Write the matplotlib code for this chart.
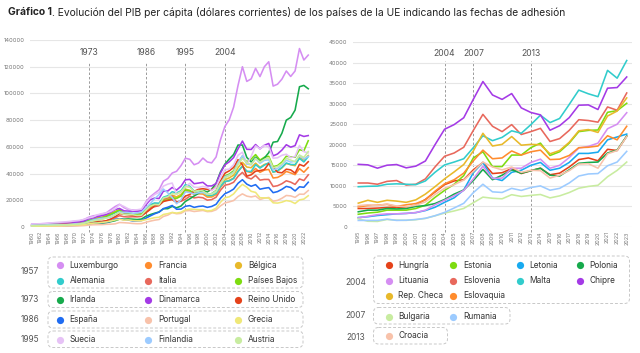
import matplotlib
matplotlib.use("Agg")
import matplotlib.pyplot as plt
from matplotlib.patches import FancyBboxPatch
import numpy as np

plt.rcParams['font.family'] = ['Inter', 'DejaVu Sans']

# ---------------- data: left chart (1960-2023) ----------------
years_l = list(range(1960, 2024))
lux = [2243, 2338, 2393, 2519, 2841, 2942, 3037, 3090, 3391, 3907,
       4413, 4709, 5740, 7337, 8363, 8837, 9665, 10607, 13023, 15330,
       16993, 14520, 12962, 12764, 12428, 12902, 18708, 22636, 25283, 27822,
       34300, 36300, 40400, 41700, 45900, 51500, 50700, 46600, 47900, 51600,
       48700, 48000, 52400, 65300, 75200, 80300, 89800, 106000, 120000, 109000,
       110900, 118800, 112600, 120000, 123700, 105500, 106900, 110700, 116800, 112700,
       116800, 133600, 125000, 128700]
fra = [1340, 1440, 1590, 1750, 1900, 2030, 2180, 2340, 2530, 2690,
       2860, 3160, 3810, 4990, 5350, 6680, 6900, 7580, 9240, 11060,
       12710, 11200, 10500, 10000, 9500, 9900, 13300, 16000, 17300, 17300,
       21800, 21700, 23800, 22500, 23700, 26900, 26900, 24200, 24900, 24700,
       22400, 22500, 24300, 29700, 33800, 34900, 36600, 41600, 45500, 41700,
       40700, 43800, 40900, 42600, 43100, 36700, 37100, 38800, 41600, 40500,
       39200, 43700, 41000, 44500]
bel = [1270, 1350, 1420, 1510, 1680, 1840, 1970, 2120, 2250, 2480,
       2750, 3080, 3870, 4920, 5800, 6690, 7200, 8470, 10320, 11660,
       12870, 10800, 9400, 8800, 8500, 8800, 12100, 14900, 16200, 16500,
       20600, 21000, 23300, 22400, 24400, 28400, 27400, 25000, 25400, 25400,
       23200, 23000, 25100, 30700, 35400, 36800, 38800, 44400, 48400, 44900,
       44400, 47800, 44700, 46800, 47800, 41000, 42000, 44200, 47600, 46600,
       45900, 51900, 50100, 53500]
deu = [1170, 1300, 1410, 1480, 1610, 1740, 1850, 1900, 2040, 2290,
       2760, 3140, 3740, 4940, 5580, 6050, 6520, 7400, 9100, 10730,
       12140, 10210, 9920, 9870, 9310, 9430, 13400, 16700, 18000, 17800,
       22300, 23400, 26400, 25500, 27100, 31700, 30500, 26900, 27300, 26800,
       23700, 23600, 25200, 30400, 34100, 34500, 36300, 41600, 45600, 41700,
       41600, 46700, 44100, 46300, 48000, 41100, 42100, 44600, 47900, 46800,
       46700, 51400, 48700, 52700]
ita = [800, 890, 990, 1120, 1220, 1310, 1420, 1550, 1670, 1840,
       2110, 2300, 2670, 3210, 3620, 4100, 4090, 4620, 5640, 6960,
       8460, 7700, 7500, 7700, 7600, 7900, 11100, 13900, 15200, 16000,
       20800, 21900, 23200, 18700, 19300, 20700, 23100, 21800, 22300, 21900,
       20100, 20500, 22300, 27500, 31300, 32000, 33500, 37900, 40900, 37100,
       36000, 38600, 35100, 35600, 35600, 30300, 30900, 32400, 34600, 33600,
       31900, 36000, 34800, 39000]
nld = [1070, 1160, 1230, 1300, 1530, 1700, 1840, 2010, 2200, 2450,
       2630, 2920, 3560, 4630, 5420, 6290, 6930, 8050, 9730, 11180,
       12800, 10800, 10400, 10000, 9400, 9500, 13100, 15700, 16700, 16400,
       19800, 20100, 21900, 21400, 23100, 27800, 27200, 25100, 25800, 26200,
       24300, 25000, 27300, 33600, 38300, 39600, 42100, 48300, 53000, 48700,
       50900, 54200, 50100, 52200, 52900, 45200, 46000, 48600, 53000, 52500,
       52200, 57900, 57000, 64600]
irl = [686, 737, 789, 845, 950, 1010, 1050, 1130, 1210, 1390,
       1490, 1670, 2070, 2380, 2460, 2890, 2800, 3190, 4000, 4730,
       5880, 5850, 6040, 5860, 5620, 5970, 8010, 9290, 10330, 11260,
       13640, 13720, 15430, 14380, 15670, 19090, 21100, 23210, 25220, 27340,
       26240, 28340, 32660, 41210, 47040, 50900, 54300, 61360, 61360, 52100,
       48670, 52220, 48940, 51610, 55650, 63500, 64000, 70200, 80000, 82000,
       87500, 105000, 106000, 103500]
dnk = [1364, 1470, 1640, 1700, 1950, 2130, 2310, 2510, 2590, 2910,
       3460, 3780, 4590, 6240, 6820, 7780, 8450, 9330, 11210, 13070,
       13880, 12120, 11870, 11860, 11600, 12190, 16550, 20390, 21660, 21310,
       26890, 26940, 29610, 27600, 30510, 35360, 35650, 32400, 32880, 33440,
       30740, 30750, 32550, 40460, 46510, 48800, 52030, 58490, 64320, 58160,
       58040, 61750, 58510, 61190, 62550, 53250, 54660, 57610, 61590, 59780,
       60910, 69000, 67790, 68450]
gbr = [1398, 1472, 1526, 1613, 1748, 1874, 1987, 2058, 1952, 2100,
       2348, 2650, 3030, 3426, 3666, 4300, 4138, 4681, 5977, 7804,
       10032, 9599, 9146, 8692, 8179, 8652, 10611, 13119, 15987, 16240,
       19095, 19900, 20487, 18389, 19709, 23123, 24333, 26734, 28214, 28669,
       28150, 27744, 30057, 34419, 40290, 42030, 44599, 50398, 46595, 38010,
       39080, 41790, 42240, 43010, 47440, 44960, 41050, 40570, 43310, 42750,
       40320, 46870, 45560, 48870]
esp = [396, 450, 520, 610, 670, 770, 880, 960, 930, 1030,
       1210, 1360, 1710, 2240, 2750, 3210, 3270, 3620, 4350, 5770,
       6210, 5370, 5250, 4560, 4600, 4810, 6600, 8300, 9900, 11100,
       13800, 14800, 16100, 13300, 13400, 15500, 16000, 14700, 15400, 15700,
       14700, 15400, 17000, 21500, 24900, 26400, 28400, 32700, 35400, 32100,
       30500, 31700, 28300, 29000, 29500, 25700, 26500, 28200, 30400, 29600,
       27000, 30100, 29700, 33500]
prt = [360, 380, 400, 430, 460, 510, 550, 610, 680, 740,
       800, 880, 1080, 1430, 1660, 1720, 1770, 1990, 2090, 2360,
       3370, 3210, 3000, 2640, 2460, 2540, 3500, 4400, 5100, 5600,
       7900, 8900, 10800, 9900, 10200, 12100, 12300, 11600, 12000, 12400,
       11500, 11700, 12900, 15800, 18000, 18800, 19800, 22800, 24800, 23100,
       22500, 23200, 20600, 21600, 22100, 19300, 19900, 21500, 23600, 23300,
       22200, 24600, 24500, 27300]
grc = [520, 590, 630, 710, 790, 900, 990, 1070, 1140, 1290,
       1490, 1650, 1880, 2450, 2860, 3040, 3430, 3840, 4460, 5290,
       5880, 5140, 5300, 4840, 4650, 4680, 5500, 6200, 7000, 7300,
       9400, 10000, 10900, 10400, 11000, 12800, 13400, 13200, 13000, 13000,
       12000, 12400, 14100, 18500, 21900, 22600, 24800, 28800, 31900, 29800,
       26700, 25900, 21900, 21800, 21600, 18100, 17900, 18600, 19800, 19200,
       17600, 20300, 20900, 23400]
swe = [2114, 2288, 2468, 2661, 2940, 3224, 3506, 3766, 3982, 4283,
       4670, 4990, 5750, 6800, 7620, 9180, 10000, 10600, 11700, 13600,
       16800, 15400, 13600, 12500, 12900, 13400, 17900, 21600, 24300, 25800,
       30600, 32100, 32900, 24500, 26100, 29900, 32700, 29800, 29600, 30400,
       29600, 27200, 29900, 37300, 42800, 43400, 46600, 53700, 56000, 46900,
       52900, 60800, 58500, 61100, 60000, 51500, 51800, 53700, 54500, 51900,
       52800, 61000, 56400, 55500]
fin = [1180, 1330, 1420, 1540, 1740, 1880, 1990, 1840, 1810, 2080,
       2440, 2620, 3060, 4060, 5250, 5950, 6550, 6860, 7280, 9040,
       11200, 10900, 10800, 10300, 10600, 11200, 14200, 17500, 21200, 24200,
       28400, 25500, 22000, 17400, 20300, 26300, 25700, 24800, 25600, 25800,
       24300, 24900, 26800, 32800, 37600, 38900, 41100, 48100, 53400, 47200,
       46500, 51100, 47700, 49900, 50300, 42800, 43800, 46400, 50000, 48600,
       49200, 53700, 50900, 52900]
aut = [935, 1030, 1090, 1170, 1270, 1370, 1480, 1570, 1680, 1830,
       2060, 2330, 2860, 3840, 4470, 5130, 5620, 6710, 7880, 9210,
       10800, 9400, 9200, 9200, 8600, 8800, 12500, 15600, 16800, 16600,
       21700, 22600, 25000, 24700, 26400, 30300, 29800, 26700, 27300, 27000,
       24700, 24600, 26400, 32300, 36800, 38400, 40400, 46700, 51400, 48000,
       46900, 51400, 48600, 50700, 51900, 44300, 45300, 47400, 51500, 50100,
       48800, 53800, 52100, 56500]

# ---------------- data: right chart (1995-2023) ----------------
years_r = list(range(1995, 2024))
hun = [4500, 4500, 4600, 4750, 4800, 4650, 5300, 6700, 8500, 10300, 11200, 11500, 13900, 15700, 13000,
       13200, 14200, 13000, 13700, 14300, 12700, 13100, 14600, 16400, 16800, 16100, 18900, 18600, 22100]
est = [3100, 3400, 3600, 4100, 4100, 4100, 4500, 5300, 7200, 8900, 10400, 12500, 16800, 18300, 14700,
       14700, 17500, 17500, 19300, 20400, 17400, 18300, 20400, 23200, 23500, 23600, 27900, 28300, 30100]
lva = [2300, 2500, 2800, 3000, 3200, 3300, 3500, 4000, 4800, 6000, 7100, 9000, 13200, 15700, 11900,
       11300, 13300, 13800, 15000, 15700, 13800, 14300, 15700, 17900, 17900, 18200, 21200, 21900, 22600]
pol = [3700, 4100, 4100, 4500, 4400, 4500, 5000, 5200, 5700, 6700, 8000, 9000, 11300, 14000, 11500,
       12600, 13900, 13100, 13700, 14300, 12600, 12400, 13900, 15500, 15700, 15800, 18000, 18700, 22100]
ltu = [2200, 2600, 3000, 3200, 3200, 3300, 3500, 4100, 5400, 6500, 7600, 8900, 11700, 14800, 11800,
       11900, 14300, 14300, 15700, 16500, 14300, 15000, 16900, 19200, 19600, 20400, 23900, 25000, 27800]
svn = [10700, 10700, 10400, 11100, 11300, 10200, 10400, 11700, 14600, 17200, 18000, 19400, 23500, 27400, 24500,
       23200, 24900, 22500, 23200, 24000, 20800, 21500, 23500, 26100, 25900, 25500, 29200, 28400, 32600]
mlt = [9800, 9900, 9950, 10400, 10500, 10400, 10300, 11200, 13300, 15100, 15800, 16600, 19300, 22200, 21000,
       21800, 23400, 22800, 24900, 27200, 25400, 26400, 29800, 33300, 32400, 31700, 38100, 36200, 40500]
cyp = [15245, 15115, 14308, 15032, 15193, 14387, 14803, 16054, 20000, 23777, 24910, 26574, 31066, 35392, 32114,
       31039, 32458, 28979, 27860, 27276, 23538, 24633, 26599, 29626, 29698, 28578, 33763, 33921, 36496]
cze = [5800, 6500, 6000, 6500, 6300, 6000, 6600, 8000, 9800, 11700, 13400, 15200, 18500, 22800, 19700,
       20100, 22000, 19900, 20100, 20000, 17800, 18600, 20600, 23400, 23700, 23000, 27000, 28200, 31400]
svk = [4900, 5200, 5300, 5500, 5000, 5400, 5700, 6600, 8700, 10500, 11500, 13100, 16100, 18700, 16600,
       16800, 18500, 17500, 18300, 18700, 16400, 16500, 17400, 19300, 19400, 19700, 22200, 21200, 24500]
bgr = [2000, 1400, 1350, 1840, 1670, 1620, 1780, 2090, 2720, 3390, 3900, 4520, 5900, 7270, 6990,
       6860, 7860, 7430, 7690, 7910, 7080, 7570, 8380, 9430, 9870, 10150, 12220, 13770, 15800]
rou = [1600, 1600, 1600, 1900, 1600, 1650, 1830, 2120, 2740, 3550, 4620, 5760, 8360, 10400, 8550,
       8400, 9400, 8900, 9600, 10000, 8950, 9400, 10700, 12400, 12900, 13000, 14900, 15800, 18400]
hrv = [5200, 5400, 5200, 5600, 5100, 4900, 5300, 6100, 7900, 9400, 10300, 11400, 13500, 15800, 14600,
       13900, 14600, 13300, 13800, 13700, 11900, 12600, 13700, 15300, 15400, 14300, 17800, 18600, 22000]

# ---------------- labels / colors ----------------
C = {
    'lilac': '#d58ef2', 'orange': '#ff8c2e', 'gold': '#e8b92a', 'teal': '#31cccc',
    'salmon': '#e8685c', 'lime': '#7ddc10', 'green': '#16aa4c', 'purple': '#a43ae6',
    'red': '#e5421a', 'blue': '#1f6cf2', 'peach': '#f8c2aa', 'yellow': '#efe878',
    'lavender': '#e6c2f6', 'lightblue': '#9ccbff', 'lightgreen': '#c8eca0', 'sky': '#18aaf0',
}
left_series = [  # (name, values, color)
    ('Luxemburgo', lux, C['lilac']), ('Francia', fra, C['orange']), ('Bélgica', bel, C['gold']),
    ('Alemania', deu, C['teal']), ('Italia', ita, C['salmon']), ('Países Bajos', nld, C['lime']),
    ('Irlanda', irl, C['green']), ('Dinamarca', dnk, C['purple']), ('Reino Unido', gbr, C['red']),
    ('España', esp, C['blue']), ('Portugal', prt, C['peach']), ('Grecia', grc, C['yellow']),
    ('Suecia', swe, C['lavender']), ('Finlandia', fin, C['lightblue']), ('Austria', aut, C['lightgreen']),
]
right_series = [
    ('Hungría', hun, C['red']), ('Estonia', est, C['lime']), ('Letonia', lva, C['sky']),
    ('Polonia', pol, C['green']), ('Lituania', ltu, C['lilac']), ('Eslovenia', svn, C['salmon']),
    ('Malta', mlt, C['teal']), ('Chipre', cyp, C['purple']), ('Rep. Checa', cze, C['gold']),
    ('Eslovaquia', svk, C['orange']), ('Bulgaria', bgr, C['lightgreen']), ('Rumania', rou, C['lightblue']),
    ('Croacia', hrv, C['peach']),
]
left_events = [1973, 1986, 1995, 2004]
right_events = [2004, 2007, 2013]

W, H = 640, 353
fig = plt.figure(figsize=(W / 100, H / 100), dpi=100)

def px_axes(x0, y0, x1, y1):
    return fig.add_axes([x0 / W, 1 - y1 / H, (x1 - x0) / W, (y1 - y0) / H])

GRID = '#e6e6e6'
TICK = '#777777'

def style(ax, ymax, step):
    ax.set_ylim(0, ymax)
    ax.set_yticks(np.arange(0, ymax + 1, step))
    ax.set_yticklabels([str(int(v)) for v in np.arange(0, ymax + 1, step)])
    ax.grid(axis='y', color=GRID, linewidth=0.8)
    ax.set_axisbelow(True)
    for s in ax.spines.values():
        s.set_visible(False)
    ax.tick_params(axis='both', length=0, colors=TICK)
    ax.tick_params(axis='y', labelsize=4.2, pad=4)
    ax.tick_params(axis='x', labelsize=3.9, labelrotation=90, pad=3)

# left chart
axL = px_axes(30, 40, 310, 227)
style(axL, 140000, 20000)
axL.set_xlim(1959.6, 2023.4)
for name, vals, col in left_series:
    axL.plot(years_l, vals, color=col, lw=1.15, solid_joinstyle='round')
axL.set_xticks(years_l[::2])
axL.set_xticklabels([str(y) for y in years_l[::2]])
for ev in left_events:
    axL.plot([ev, ev], [-4000, 123500], ls=(0, (2.5, 2)), color='#9a9a9a', lw=0.7, clip_on=False, zorder=0.5)
    axL.text(ev, 130500, str(ev), ha='center', va='center', fontsize=6.2, color='#555555')

# right chart
axR = px_axes(353, 42, 632, 227)
style(axR, 45000, 5000)
axR.set_xlim(1994.45, 2023.55)
for name, vals, col in right_series:
    axR.plot(years_r, vals, color=col, lw=1.15, solid_joinstyle='round')
axR.set_xticks(years_r)
axR.set_xticklabels([str(y) for y in years_r])
for ev in right_events:
    axR.plot([ev, ev], [-1300, 40400], ls=(0, (2.5, 2)), color='#9a9a9a', lw=0.7, clip_on=False, zorder=0.5)
    axR.text(ev, 42100, str(ev), ha='center', va='center', fontsize=6.2, color='#555555')

# overlay for title and legends (pixel coordinates)
ov = fig.add_axes([0, 0, 1, 1], zorder=-1)
ov.set_xlim(0, W)
ov.set_ylim(H, 0)
ov.axis('off')

t1 = ov.text(8, 12, 'Gráfico 1', fontsize=7.4, fontweight='bold', color='#222222', va='center', ha='left')
fig.canvas.draw()
bb = t1.get_window_extent(renderer=fig.canvas.get_renderer())
ov.text(8 + bb.width, 12,
        '. Evolución del PIB per cápita (dólares corrientes) de los países de la UE indicando las fechas de adhesión',
        fontsize=7.4, color='#222222', va='center', ha='left')

def box(x0, y0, x1, y1):
    p = FancyBboxPatch((x0, y0), x1 - x0, y1 - y0, boxstyle='round,pad=0,rounding_size=5',
                       fill=False, edgecolor='#c8c8c8', lw=0.7, ls=(0, (3, 2)))
    ov.add_patch(p)

def entry(x, y, name, col, text_dx=10):
    ov.plot([x], [y], 'o', color=col, ms=5.2, mec='none')
    ov.text(x + text_dx, y, name, fontsize=6, color='#333333', va='center', ha='left')

# left legend
lcols = [59.5, 148, 238]
box(48, 257, 303, 288)
box(48, 291.5, 303, 307.5)
box(48, 311, 303, 328)
box(48, 331, 303, 347.5)
ov.text(30, 272, '1957', fontsize=6, color='#555555', va='center', ha='center')
ov.text(30, 299.5, '1973', fontsize=6, color='#555555', va='center', ha='center')
ov.text(30, 319.5, '1986', fontsize=6, color='#555555', va='center', ha='center')
ov.text(30, 339.5, '1995', fontsize=6, color='#555555', va='center', ha='center')
lrows = [265, 280.5, 300, 319.5, 339.5]
for i, (name, vals, col) in enumerate(left_series):
    r, c = divmod(i, 3)
    entry(lcols[c], lrows[r], name, col)

# right legend
rcols = [388.5, 453, 519.5, 579.5]
box(373.5, 256, 629.5, 303.5)
box(373.5, 307.5, 510, 324)
box(373.5, 327.5, 447.5, 344)
ov.text(356, 282.5, '2004', fontsize=6, color='#555555', va='center', ha='center')
ov.text(356, 316, '2007', fontsize=6, color='#555555', va='center', ha='center')
ov.text(356, 337, '2013', fontsize=6, color='#555555', va='center', ha='center')
rrows = [265, 280.5, 295.5]
for i, (name, vals, col) in enumerate(right_series[:10]):
    r, c = divmod(i, 4)
    entry(rcols[c], rrows[r], name, col)
entry(rcols[0], 316.5, right_series[10][0], right_series[10][2])
entry(rcols[1], 316.5, right_series[11][0], right_series[11][2])
entry(rcols[0], 336, right_series[12][0], right_series[12][2])

fig.savefig('out.png', dpi=100)
